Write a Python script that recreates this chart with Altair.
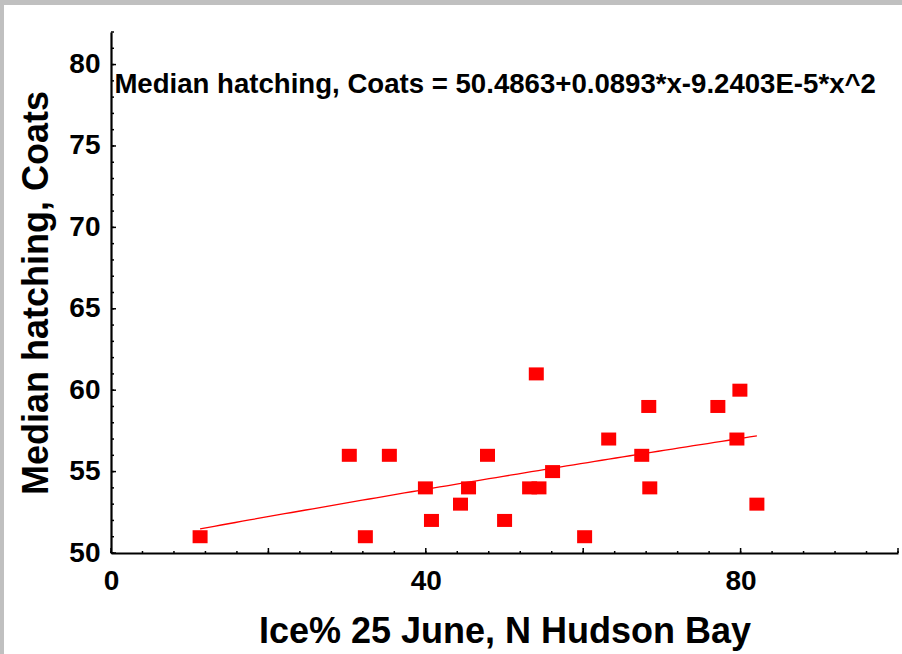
import altair as alt
import numpy as np
import pandas as pd

# Observations: sea-ice cover on 25 June vs. median hatching date
ice_pct = [11.32, 30.28, 32.32, 35.37, 39.95, 40.72, 44.41, 45.43, 47.84, 50.01,
           53.19, 54.38, 54.04, 56.11, 60.18, 63.24, 67.44, 68.33, 68.46, 77.11,
           79.91, 79.53, 82.07]
hatch_day = [51, 56, 51, 56, 54, 52, 53, 54, 56, 52,
             54, 54, 61, 55, 51, 57, 56, 59, 54, 59,
             60, 57, 53]

# Quadratic fit coefficients (intercept, linear, quadratic)
fit_coef = [50.4863, 0.0893, -9.2403e-5]
fit_label = "Median hatching, Coats = 50.4863+0.0893*x-9.2403E-5*x^2"

x_domain = [0, 100]
y_domain = [50, 82]
x_labels = [0, 40, 80]
y_labels = [50, 55, 60, 65, 70, 75, 80]
x_major = [0, 20, 40, 60, 80, 100]
x_minor = list(range(0, 101, 4))
y_major = [50, 55, 60, 65, 70, 75, 80]
y_minor = list(range(50, 83, 1))

W, H = 787, 521
FONT = "Liberation Sans"
RED = "#ff0000"

pts = pd.DataFrame({"ice": ice_pct, "hatch": hatch_day})

# the fitted curve is sampled over the observed ice range
curve = pd.DataFrame({"ice": np.linspace(min(ice_pct), max(ice_pct), 80)})

xs = alt.Scale(domain=x_domain, nice=False, zero=False)
ys = alt.Scale(domain=y_domain, nice=False, zero=False)

x_axis = alt.Axis(values=x_labels, format="d", title="Ice% 25 June, N Hudson Bay",
                  grid=False, ticks=True, tickSize=0, labelPadding=14,
                  labelFlush=False, titleY=89, titleBaseline="alphabetic")
y_axis = alt.Axis(values=y_labels, format="d", title="Median hatching, Coats",
                  grid=False, ticks=True, tickSize=0, labelPadding=11,
                  labelFlush=False, titleX=-64, titleBaseline="alphabetic",
                  titleAngle=-90)

points = alt.Chart(pts).mark_point(
    shape="M-1,-0.867H1V0.867H-1Z", size=225, filled=True, opacity=1,
    color=RED, strokeWidth=0
).encode(
    x=alt.X("ice:Q", scale=xs, axis=x_axis),
    y=alt.Y("hatch:Q", scale=ys, axis=y_axis),
)

fit = alt.Chart(curve).transform_calculate(
    fit=f"{fit_coef[0]} + {fit_coef[1]}*datum.ice + ({fit_coef[2]})*datum.ice*datum.ice"
).mark_line(color=RED, strokeWidth=1.3).encode(
    x=alt.X("ice:Q", scale=xs),
    y=alt.Y("fit:Q", scale=ys),
)

# inward tick marks along both axes
def x_ticks(vals, length):
    return alt.Chart(pd.DataFrame({"v": vals})).mark_rule(
        color="black", strokeWidth=1.5
    ).encode(x=alt.X("v:Q", scale=xs), y=alt.value(H), y2=alt.value(H - length))

def y_ticks(vals, length):
    return alt.Chart(pd.DataFrame({"v": vals})).mark_rule(
        color="black", strokeWidth=1.5
    ).encode(y=alt.Y("v:Q", scale=ys), x=alt.value(0), x2=alt.value(length))

label = alt.Chart(pd.DataFrame({"t": [fit_label]})).mark_text(
    align="left", baseline="alphabetic", font=FONT, fontWeight="bold",
    fontSize=27.6, color="black"
).encode(x=alt.datum(0.43, scale=xs), y=alt.datum(78.27, scale=ys), text="t:N")

# light grey frame along the top and left edges of the figure
frame_top = alt.Chart(pd.DataFrame({"a": [0]})).mark_rect(color="#c0c0c0").encode(
    x=alt.value(-111), x2=alt.value(W + 4), y=alt.value(-32), y2=alt.value(-27))
frame_left = alt.Chart(pd.DataFrame({"a": [0]})).mark_rect(color="#c0c0c0").encode(
    x=alt.value(-111), x2=alt.value(-107), y=alt.value(-32), y2=alt.value(H + 101))

chart = alt.layer(
    frame_top, frame_left,
    x_ticks(x_minor, 2), x_ticks(x_major, 5),
    y_ticks(y_minor, 3), y_ticks(y_major, 5),
    fit, points, label,
).properties(
    width=W, height=H,
    autosize=alt.AutoSizeParams(type="none"),
    padding={"left": 111, "top": 32, "right": 4, "bottom": 101},
    background="white",
).configure_view(stroke=None).configure_axis(
    domainColor="black", domainWidth=2.2,
    labelFont=FONT, labelFontWeight="bold", labelFontSize=28, labelColor="black",
    titleFont=FONT, titleFontWeight="bold", titleFontSize=36, titleColor="black",
)

chart.save("out.html", embed_options={"renderer": "svg", "actions": False})
